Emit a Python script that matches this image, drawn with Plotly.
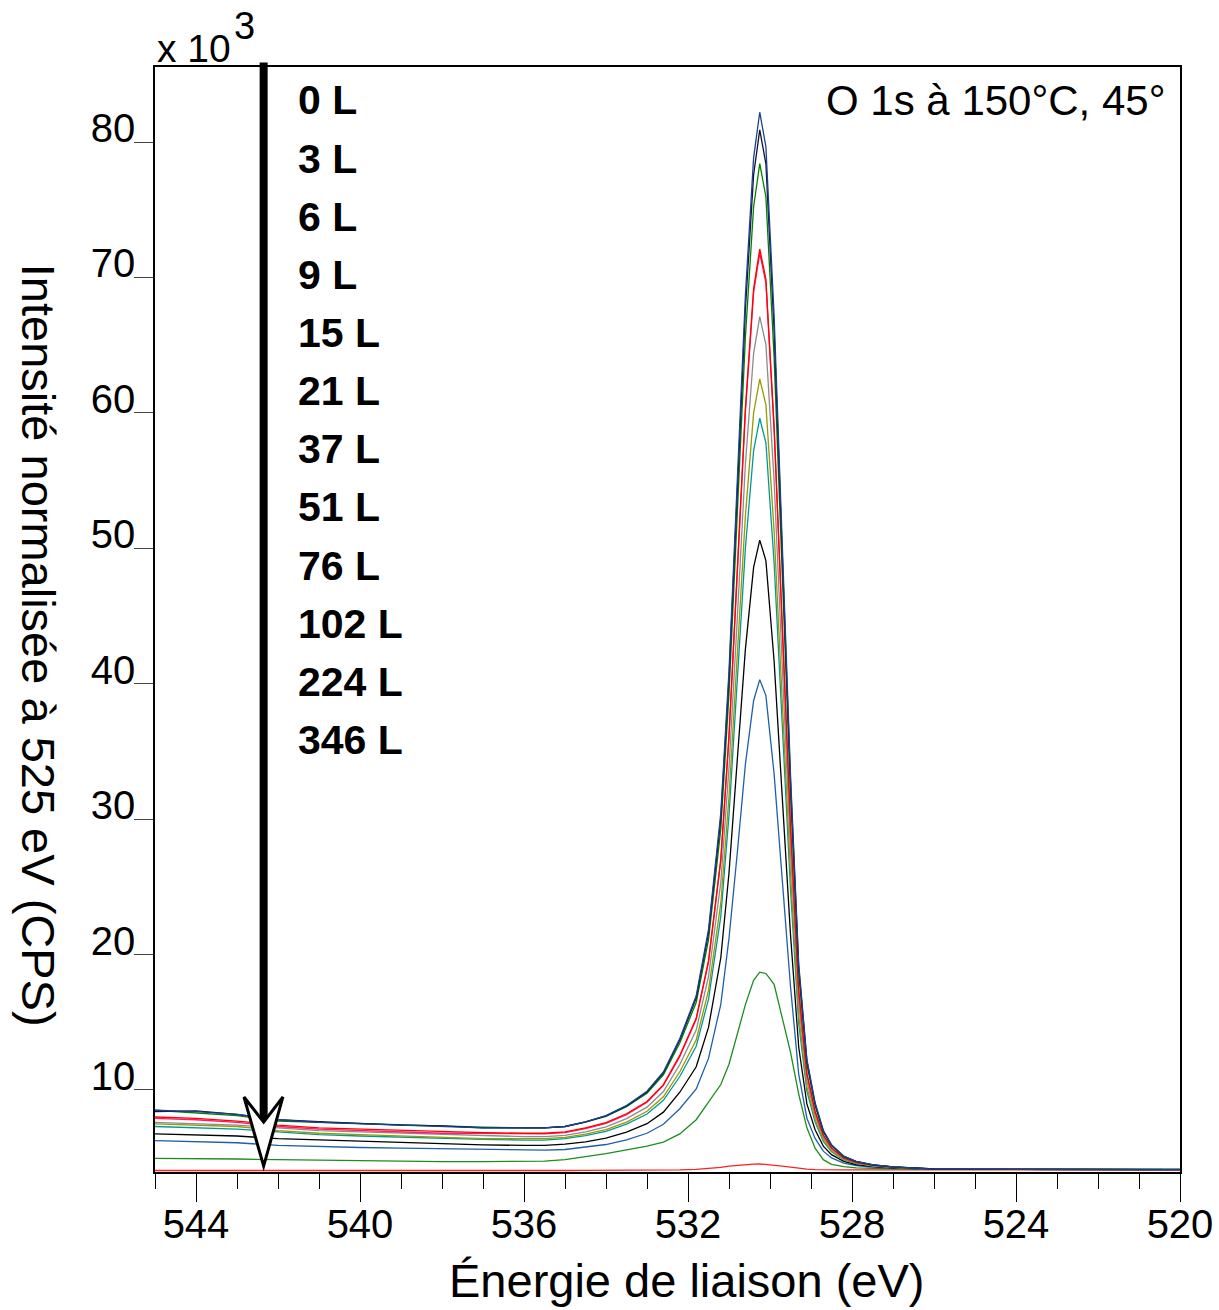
import plotly.graph_objects as go

# ---------------- data (intensity in units of 10^3 CPS) ----------------
energy = [545, 544, 543, 542, 541, 540, 539, 538, 537, 536, 535.5, 535,
          534.5, 534, 533.5, 533, 532.6, 532.2, 531.8, 531.5, 531.2, 531.0,
          530.8, 530.6, 530.4, 530.25, 530.1, 529.9, 529.7, 529.5, 529.3,
          529.1, 528.9, 528.7, 528.5, 528.2, 527.9, 527.5, 527,
          526, 525, 524, 523, 522, 521, 520]

I_0L = [8.5, 8.4, 8.2, 7.8, 7.6, 7.5, 7.4, 7.3, 7.2, 7.2, 7.2, 7.3,
        7.65, 8.1, 8.85, 9.9, 11.33, 13.8, 16.95, 21.83, 30.45, 40.95, 54.45, 68.7, 78.83, 82.2,
        79.65, 67.19, 50.23, 33.27, 19.32, 12.26, 9.05, 7.02, 5.95, 5.11, 4.73, 4.48, 4.32,
        4.15, 4.15, 4.13, 4.14, 4.12, 4.13, 4.12]
I_3L = [8.4, 8.45, 8.2, 7.8, 7.65, 7.5, 7.4, 7.35, 7.2, 7.2, 7.2, 7.3,
        7.64, 8.08, 8.82, 9.85, 11.25, 13.69, 16.78, 21.57, 30.05, 40.37, 53.63, 67.63, 77.58, 80.9,
        78.39, 66.14, 49.46, 32.79, 19.07, 12.13, 8.97, 6.97, 5.92, 5.09, 4.72, 4.47, 4.32,
        4.16, 4.14, 4.15, 4.13, 4.14, 4.12, 4.13]
I_6L = [8.5, 8.3, 8.1, 7.7, 7.6, 7.5, 7.4, 7.3, 7.25, 7.2, 7.2, 7.3,
        7.63, 8.05, 8.77, 9.76, 11.12, 13.47, 16.46, 21.08, 29.27, 39.24, 52.06, 65.58, 75.2, 78.4,
        75.96, 64.11, 47.98, 31.86, 18.6, 11.88, 8.82, 6.88, 5.87, 5.06, 4.7, 4.46, 4.31,
        4.17, 4.15, 4.14, 4.15, 4.13, 4.12, 4.14]
I_9L = [8.0, 7.9, 7.7, 7.4, 7.2, 7.1, 7.0, 6.95, 6.85, 6.8, 6.8, 6.9,
        7.19, 7.58, 8.24, 9.15, 10.39, 12.55, 15.29, 19.53, 27.04, 36.19, 47.94, 60.35, 69.16, 72.1,
        69.87, 59.03, 44.27, 29.5, 17.35, 11.21, 8.41, 6.65, 5.72, 4.98, 4.66, 4.44, 4.3,
        4.15, 4.14, 4.13, 4.14, 4.12, 4.13, 4.12]
I_15L = [7.9, 7.8, 7.6, 7.3, 7.1, 7.0, 6.9, 6.8, 6.8, 6.75, 6.75, 6.85,
         7.14, 7.53, 8.18, 9.09, 10.33, 12.47, 15.21, 19.43, 26.92, 36.02, 47.73, 60.09, 68.87, 71.8,
         69.6, 58.8, 44.1, 29.4, 17.29, 11.17, 8.38, 6.63, 5.7, 4.98, 4.66, 4.44, 4.3,
         4.16, 4.15, 4.13, 4.13, 4.14, 4.12, 4.12]
I_21L = [7.6, 7.5, 7.4, 7.2, 7.0, 6.9, 6.8, 6.7, 6.6, 6.55, 6.55, 6.65,
         6.91, 7.28, 7.88, 8.73, 9.88, 11.88, 14.42, 18.36, 25.32, 33.8, 44.7, 56.2, 64.38, 67.1,
         65.04, 55.0, 41.31, 27.63, 16.37, 10.69, 8.09, 6.46, 5.6, 4.93, 4.62, 4.42, 4.29,
         4.15, 4.14, 4.14, 4.13, 4.13, 4.12, 4.12]
I_37L = [7.5, 7.4, 7.3, 7.0, 6.8, 6.7, 6.6, 6.5, 6.4, 6.4, 6.4, 6.5,
         6.74, 7.07, 7.63, 8.42, 9.49, 11.34, 13.69, 17.34, 23.79, 31.65, 41.74, 52.4, 59.98, 62.5,
         60.6, 51.28, 38.6, 25.92, 15.49, 10.21, 7.81, 6.29, 5.49, 4.87, 4.59, 4.4, 4.28,
         4.15, 4.14, 4.13, 4.13, 4.12, 4.13, 4.12]
I_51L = [7.3, 7.2, 7.1, 6.9, 6.7, 6.6, 6.5, 6.4, 6.35, 6.3, 6.3, 6.4,
         6.62, 6.94, 7.47, 8.22, 9.23, 10.99, 13.23, 16.69, 22.82, 30.29, 39.88, 50.01, 57.2, 59.6,
         57.79, 48.93, 36.89, 24.84, 14.93, 9.91, 7.63, 6.19, 5.43, 4.84, 4.57, 4.39, 4.28,
         4.16, 4.14, 4.13, 4.14, 4.12, 4.12, 4.13]
I_76L = [6.75, 6.7, 6.6, 6.4, 6.3, 6.2, 6.1, 6.0, 5.95, 5.9, 5.9, 6.0,
         6.17, 6.44, 6.88, 7.51, 8.36, 9.83, 11.71, 14.62, 19.76, 26.02, 34.06, 42.55, 48.59, 50.6,
         49.09, 41.67, 31.57, 21.48, 13.17, 8.97, 7.06, 5.85, 5.22, 4.72, 4.49, 4.35, 4.25,
         4.15, 4.13, 4.12, 4.13, 4.12, 4.11, 4.12]
I_102L = [6.25, 6.2, 6.1, 5.9, 5.8, 5.75, 5.7, 5.65, 5.6, 5.55, 5.55, 5.6,
          5.76, 5.97, 6.31, 6.8, 7.46, 8.61, 10.07, 12.33, 16.32, 21.19, 27.44, 34.05, 38.74, 40.3,
          39.12, 33.35, 25.49, 17.64, 11.17, 7.91, 6.42, 5.48, 4.98, 4.6, 4.42, 4.31, 4.23,
          4.14, 4.13, 4.12, 4.13, 4.11, 4.12, 4.12]
I_224L = [4.95, 4.95, 4.9, 4.85, 4.8, 4.8, 4.75, 4.7, 4.7, 4.7, 4.75, 4.85,
          5.05, 5.3, 5.57, 5.85, 6.15, 6.75, 7.8, 9.1, 10.4, 11.9, 14.0, 16.3, 18.1, 18.7,
          18.6, 17.8, 15.3, 12.8, 9.7, 7.2, 5.7, 4.85, 4.5, 4.33, 4.25, 4.2, 4.18,
          4.15, 4.14, 4.13, 4.13, 4.12, 4.12, 4.12]
I_346L = [4.05, 4.04, 4.05, 4.05, 4.04, 4.05, 4.05, 4.04, 4.05, 4.05, 4.05, 4.05,
          4.06, 4.06, 4.07, 4.07, 4.08, 4.1, 4.14, 4.2, 4.28, 4.38, 4.44, 4.48, 4.52, 4.53,
          4.5, 4.45, 4.38, 4.3, 4.22, 4.15, 4.12, 4.1, 4.1, 4.1, 4.1, 4.1, 4.1,
          4.1, 4.1, 4.1, 4.1, 4.1, 4.1, 4.1]

labels = ["0 L", "3 L", "6 L", "9 L", "15 L", "21 L", "37 L", "51 L",
          "76 L", "102 L", "224 L", "346 L"]
series = [I_0L, I_3L, I_6L, I_9L, I_15L, I_21L, I_37L, I_51L,
          I_76L, I_102L, I_224L, I_346L]
colors = ["#1c3f94", "#0d1430", "#008000", "#ff0000", "#ff1a70", "#8c8c8c",
          "#999900", "#009999", "#000000", "#1f5fa8", "#1e8c1e", "#ff2020"]

x_ticks = [544, 540, 536, 532, 528, 524, 520]
y_ticks = [10, 20, 30, 40, 50, 60, 70, 80]

# ---------------- figure ----------------
FONT = "Liberation Sans, Arial, sans-serif"
fig = go.Figure()
for lab, ys, col in reversed(list(zip(labels, series, colors))):
    fig.add_trace(go.Scatter(x=energy, y=ys, mode="lines", name=lab,
                             line=dict(color=col, width=1.3), showlegend=False,
                             hoverinfo="skip"))

fig.update_layout(
    width=1219, height=1310,
    margin=dict(l=155, r=39, t=67, b=138),
    paper_bgcolor="white", plot_bgcolor="white",
    showlegend=False,
    font=dict(family=FONT, color="black"),
)

fig.update_xaxes(
    range=[545, 520], tickmode="array", tickvals=x_ticks,
    ticktext=[str(v) for v in x_ticks], automargin=False,
    ticks="outside", ticklen=28, tickwidth=1.3, tickcolor="black",
    showgrid=False, zeroline=False, showline=True, linecolor="black",
    linewidth=1.5, mirror=True, tickfont=dict(size=40, family=FONT),
    ticklabelstandoff=-12,
    minor=dict(tickmode="linear", tick0=520, dtick=1, ticks="outside",
               ticklen=15, tickwidth=1.3, tickcolor="black", showgrid=False),
)
fig.update_yaxes(
    range=[3.94, 85.54], tickmode="array", tickvals=y_ticks,
    ticktext=[str(v) for v in y_ticks], automargin=False,
    ticks="outside", ticklen=19, tickwidth=1.3, tickcolor="#444444",
    showgrid=False, zeroline=False, showline=True, linecolor="black",
    linewidth=1.5, mirror=True, tickfont=dict(size=40, family=FONT),
    ticklabelshift=-14, ticklabelstandoff=-9,
)

ann = []
# axis titles
ann.append(dict(text="Énergie de liaison (eV)", xref="paper", yref="paper",
                x=0.519, y=-0.098, xanchor="center", yanchor="middle",
                showarrow=False, font=dict(size=47, family=FONT)))
ann.append(dict(text="Intensité normalisée à 525 eV (CPS)", xref="paper", yref="paper",
                x=-0.114, y=0.477, xanchor="center", yanchor="middle", textangle=90,
                showarrow=False, font=dict(size=47, family=FONT)))
# multiplier
ann.append(dict(text="x 10", xref="paper", yref="paper", x=0.0, y=1.017,
                xanchor="left", yanchor="middle", showarrow=False,
                font=dict(size=39, family=FONT)))
ann.append(dict(text="3", xref="paper", yref="paper", x=0.0878, y=1.037,
                xanchor="center", yanchor="middle", showarrow=False,
                font=dict(size=38, family=FONT)))
# condition label
ann.append(dict(text="O 1s à 150°C, 45°", xref="paper", yref="paper",
                x=0.987, y=0.970, xanchor="right", yanchor="middle",
                showarrow=False, font=dict(size=42, family=FONT)))
# exposure labels
for i, lab in enumerate(labels):
    ann.append(dict(text="<b>%s</b>" % lab, xref="paper", yref="paper",
                    x=0.1377, y=0.9697 - i * 0.05262, xanchor="left", yanchor="middle",
                    showarrow=False, font=dict(size=41, family=FONT)))
fig.update_layout(annotations=ann)

# arrow (decoration)
ARROW_E = 542.35
fig.add_shape(type="line", xref="x", yref="paper", x0=ARROW_E, x1=ARROW_E,
              y0=1.004, y1=0.047, line=dict(color="black", width=8), layer="above")
fig.add_shape(type="path", xref="x", yref="paper",
              path="M 542.83,0.0679 L %.3f,0.0452 L 541.88,0.0679 L %.3f,0.0054 Z" % (ARROW_E, ARROW_E),
              fillcolor="white", line=dict(color="black", width=3), layer="above")

fig.write_html("out.html", config={"displayModeBar": False},
               post_script="document.body.style.margin='0';document.body.style.overflow='hidden';")
